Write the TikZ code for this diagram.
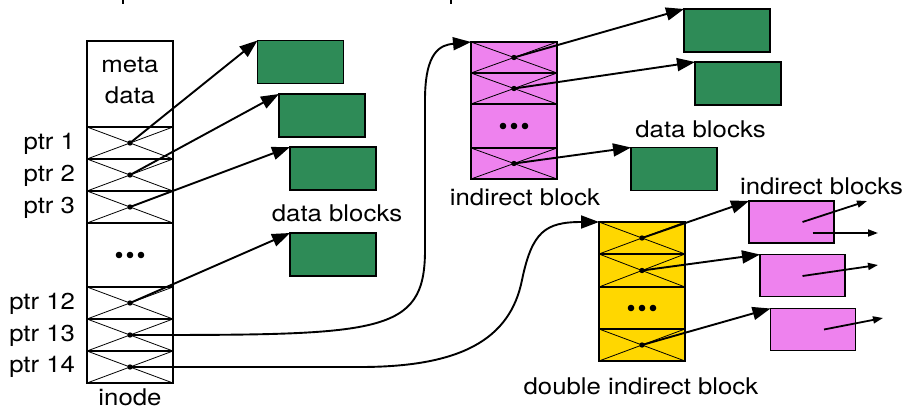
\documentclass[tikz,border=0pt]{standalone}
\usepackage{fontspec}
\setmainfont[FakeStretch=1.12]{TeX Gyre Heros}
\usetikzlibrary{arrows.meta,calc}
\definecolor{blkgreen}{RGB}{46,139,87}
\definecolor{blkpink}{RGB}{238,130,238}
\definecolor{blkgold}{RGB}{255,215,0}
\newcommand\lblfont{\fontsize{23}{27}\selectfont}
\begin{document}
\begin{tikzpicture}[x=1pt,y=-1pt,
  blk/.style={draw, line width=1.6pt, inner sep=0pt, outer sep=0pt, minimum width=86pt},
  datablk/.style={blk, fill=blkgreen, minimum height=43pt},
  indblk/.style={blk, fill=blkpink, minimum width=85pt, minimum height=42pt},
  lbl/.style={font=\lblfont, inner sep=0pt, outer sep=0pt},
  conn/.style={line width=1.9pt, -{Triangle[length=18pt,width=13pt]}},
  subconn/.style={line width=1.8pt, -{Triangle[length=10pt,width=7pt]}},
  xline/.style={line width=0.8pt},
]
\useasboundingbox (0,0) rectangle (909,409);

% descenders of the cut-off heading
\draw[line width=1.6pt] (123,0) -- (123,4);
\draw[line width=1.6pt] (451,0) -- (451,4);

% ---------- inode ----------
\node[blk, minimum height=86pt] (imeta) at (130,84) {};
\node[blk, minimum height=32pt] (i1)  at (130,143) {};
\node[blk, minimum height=32pt] (i2)  at (130,175) {};
\node[blk, minimum height=32pt] (i3)  at (130,207) {};
\node[blk, minimum height=64pt] (idots) at (130,255) {};
\node[blk, minimum height=32pt] (i12) at (130,303) {};
\node[blk, minimum height=32pt] (i13) at (130,335) {};
\node[blk, minimum height=32pt] (i14) at (130,367) {};

\node[lbl, anchor=base] (tmeta) at (130,73) {meta};
\node[lbl, anchor=base] (tdata) at (130,104) {data};
\node[lbl, anchor=base] (tinode) at (130,405) {inode};

\node[lbl, anchor=base east] (l1)  at (75,149) {ptr 1};
\node[lbl, anchor=base east] (l2)  at (75,181) {ptr 2};
\node[lbl, anchor=base east] (l3)  at (75,213) {ptr 3};
\node[lbl, anchor=base east] (l12) at (75,309) {ptr 12};
\node[lbl, anchor=base east] (l13) at (75,341) {ptr 13};
\node[lbl, anchor=base east] (l14) at (75,372) {ptr 14};

% ---------- direct data blocks ----------
\node[datablk] (d1) at (300.5,62) {};
\node[datablk] (d2) at (322,115.5) {};
\node[datablk] (d3) at (333,168.5) {};
\node[datablk] (d4) at (333,254.5) {};
\node[lbl, anchor=base] (tdb1) at (337,221) {data blocks};

% ---------- indirect block ----------
\node[blk, fill=blkpink, minimum height=31pt] (n1) at (514,57.5) {};
\node[blk, fill=blkpink, minimum height=31pt] (n2) at (514,88.5) {};
\node[blk, fill=blkpink, minimum height=44pt] (ndots) at (514,126) {};
\node[blk, fill=blkpink, minimum height=31pt] (n3) at (514,163.5) {};
\node[lbl, anchor=base] (tind) at (525,205) {indirect block};

\node[datablk] (d5) at (727,30.5) {};
\node[datablk] (d6) at (738,83.5) {};
\node[datablk] (d7) at (674,169) {};
\node[lbl, anchor=base] (tdb2) at (700.5,137) {data blocks};

% ---------- double indirect block ----------
\node[blk, fill=blkgold, minimum height=32pt] (b1) at (642,238) {};
\node[blk, fill=blkgold, minimum height=33pt] (b2) at (642,270.5) {};
\node[blk, fill=blkgold, minimum height=42pt] (bdots) at (642,308) {};
\node[blk, fill=blkgold, minimum height=32pt] (b3) at (642,345) {};
\node[lbl, anchor=base] (tdbl) at (641,394) {double indirect block};

\node[indblk] (q1) at (791.5,222) {};
\node[indblk] (q2) at (802.5,275.5) {};
\node[indblk] (q3) at (813,329.5) {};
\node[lbl, anchor=base] (tinds) at (821.5,194) {indirect blocks};

% crossed pointer cells and their pointer dots
\foreach \c in {i1,i2,i3,i12,i13,i14,n1,n2,n3,b1,b2,b3} {
  \draw[xline] (\c.north west) -- (\c.south east) (\c.south west) -- (\c.north east);
}
\foreach \c in {i1,i2,i3,i12,i13,i14,n1,n2,n3,b1,b2,b3} {
  \fill (\c.center) circle (2.7pt);
}
% ellipsis marks
\foreach \c in {idots,ndots,bdots} {
  \foreach \dx in {-11,0,11} \fill ($(\c.center)+(\dx,0)$) circle (3.3pt);
}

% ---------- pointers ----------
\draw[conn] (i1.center) -- (d1.north west);
\draw[conn] (i2.center) -- (d2.north west);
\draw[conn] (i3.center) -- (d3.north west);
\draw[conn] (i12.center) -- (d4.north west);

\draw[conn] (i13.center) .. controls (380,335) and (425,335) .. (425,250)
  -- (425,100) .. controls (425,52) and (440,45) .. (n1.north west);
\draw[conn] (i14.center) -- (360,367) .. controls (460,367) and (510,340) .. (522,280)
  .. controls (532,232) and (545,222) .. (b1.north west);

\draw[conn] (n1.center) -- (d5.north west);
\draw[conn] (n2.center) -- (d6.north west);
\draw[conn] (n3.center) -- (d7.north west);

\draw[conn] (b1.center) -- (q1.north west);
\draw[conn] (b2.center) -- (q2.north west);
\draw[conn] (b3.center) -- (q3.north west);

% onward pointers out of the indirect blocks
\coordinate (o1) at (867,201);
\coordinate (o2) at (878,233);
\coordinate (o3) at (878,265);
\coordinate (o4) at (883,318);
\draw[subconn] ($(q1.center)+(11,0)$) -- (o1);
\draw[subconn] ($(q1.center)+(21,11)$) -- (o2);
\draw[subconn] ($(q2.center)+(0,0.5)$) -- (o3);
\draw[subconn] ($(q3.center)+(11,0)$) -- (o4);
\end{tikzpicture}
\end{document}
